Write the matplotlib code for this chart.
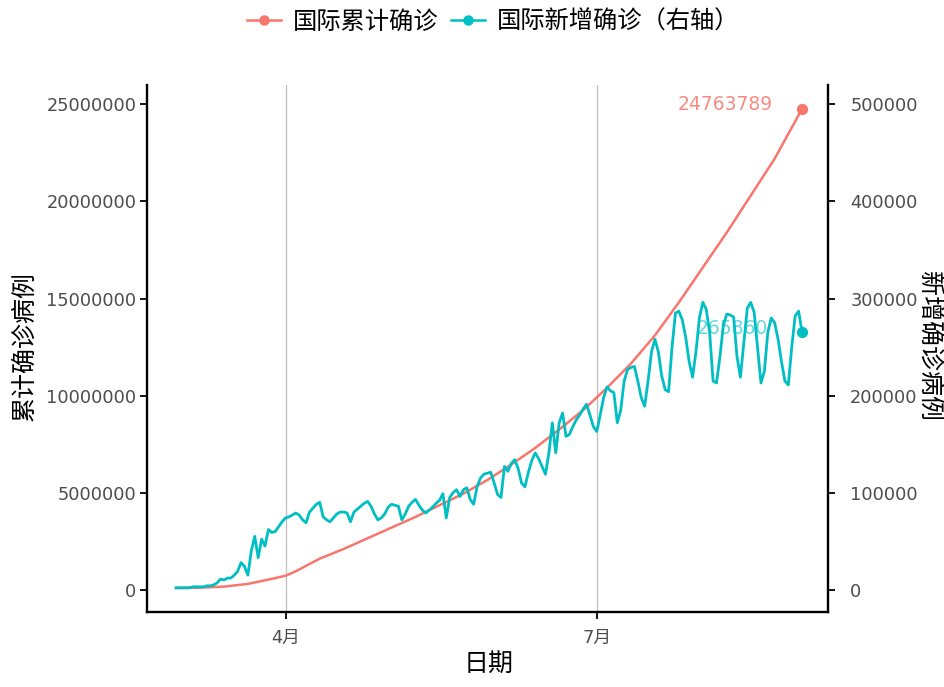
import numpy as np
import pandas as pd
import matplotlib
matplotlib.use("Agg")
import matplotlib.pyplot as plt
import matplotlib.dates as mdates
from matplotlib.lines import Line2D

plt.rcParams['font.family'] = ['DejaVu Sans', 'Noto Sans CJK SC']

# ---------------- data ----------------
start_date = "2020-02-29"
# daily new confirmed cases (right axis), Feb 29 .. Aug 30
daily_new = [
    2000, 2000, 2000, 2000, 2000, 3000, 3000, 3000,
    3000, 4000, 4000, 5000, 7000, 11000, 10000, 12000,
    12000, 15000, 19000, 28000, 24000, 15000, 40000, 55000,
    33000, 52000, 45000, 62000, 59000, 60000, 65000, 70000,
    74000, 75000, 77000, 79000, 77000, 72000, 69000, 80000,
    84000, 88000, 90000, 75000, 72000, 70000, 74000, 78000,
    80000, 80000, 79000, 70000, 80000, 83000, 86000, 89000,
    91000, 86000, 78000, 72000, 74000, 78000, 85000, 88000,
    87000, 86000, 72000, 78000, 86000, 90000, 93000, 87000,
    82000, 79000, 82000, 85000, 89000, 92000, 99000, 74000,
    95000, 100000, 103000, 96000, 103000, 105000, 93000, 88000,
    106000, 115000, 119000, 120000, 121000, 110000, 98000, 95000,
    127000, 122000, 130000, 134000, 125000, 110000, 106000, 121000,
    133000, 141000, 135000, 127000, 119000, 141000, 172000, 141000,
    172000, 182000, 158000, 160000, 168000, 175000, 180000, 186000,
    191000, 180000, 168000, 163000, 180000, 198000, 209000, 205000,
    203000, 172000, 185000, 215000, 227000, 229000, 230000, 215000,
    198000, 189000, 215000, 245000, 258000, 245000, 220000, 206000,
    204000, 250000, 285000, 287000, 278000, 260000, 235000, 219000,
    245000, 280000, 296000, 289000, 265000, 215000, 213000, 240000,
    272000, 284000, 283000, 281000, 240000, 219000, 255000, 290000,
    296000, 286000, 250000, 213000, 225000, 265000, 280000, 275000,
    258000, 235000, 215000, 211000, 250000, 282000, 287000, 265860,
]
# cumulative confirmed cases (left axis) read at selected dates
cum_dates = ["2020-02-29", "2020-03-07", "2020-03-14", "2020-03-21", "2020-03-28",
             "2020-04-01", "2020-04-04", "2020-04-11", "2020-04-18", "2020-04-25",
             "2020-05-02", "2020-05-09", "2020-05-16", "2020-05-23", "2020-05-30",
             "2020-06-06", "2020-06-13", "2020-06-20", "2020-06-27", "2020-07-04",
             "2020-07-11", "2020-07-18", "2020-07-25", "2020-08-01", "2020-08-08",
             "2020-08-15", "2020-08-22", "2020-08-30"]
cum_values = [86000, 105000, 160000, 300000, 560000,
              720000, 950000, 1600000, 2100000, 2650000,
              3200000, 3750000, 4350000, 4950000, 5650000,
              6450000, 7300000, 8250000, 9250000, 10400000,
              11650000, 13100000, 14800000, 16600000, 18400000,
              20300000, 22200000, 24763789]

x_tick_dates = ["2020-04-01", "2020-07-01"]
x_tick_labels = ["4月", "7月"]
left_ticks = [0, 5000000, 10000000, 15000000, 20000000, 25000000]
right_ticks = [0, 100000, 200000, 300000, 400000, 500000]
sec_factor = 50

legend_labels = ["国际累计确诊", "国际新增确诊（右轴）"]
red = "#F8766D"
teal = "#00BFC4"

# ---------------- figure ----------------
daily_dates = pd.date_range(start_date, periods=len(daily_new), freq="D")
cum_dt = pd.to_datetime(cum_dates)
daily_arr = np.array(daily_new, dtype=float)
cum_arr = np.array(cum_values, dtype=float)

W, H = 944, 687
fig = plt.figure(figsize=(W/100, H/100), dpi=100)
ax = fig.add_axes([147/W, 1-612/H, (828-147)/W, (612-85)/H])
ax2 = ax.twinx()

xd0 = mdates.date2num(daily_dates[0]); xd1 = mdates.date2num(daily_dates[-1])
ax.set_xlim(xd0 - 8.5, xd1 + 7.6)
ymin = min(cum_arr.min(), daily_arr.min()*sec_factor)
ymax = max(cum_arr.max(), daily_arr.max()*sec_factor)
yr = ymax - ymin
ax.set_ylim(ymin - 0.05*yr, ymax + 0.05*yr)
ax2.set_ylim(ax.get_ylim()[0]/sec_factor, ax.get_ylim()[1]/sec_factor)

for d in x_tick_dates:
    ax.axvline(mdates.date2num(pd.Timestamp(d)), color="#BEBEBE", lw=0.9, zorder=0)

ax.plot(mdates.date2num(cum_dt), cum_arr, color=red, lw=1.8, zorder=3,
        solid_joinstyle="round")
ax.scatter([mdates.date2num(cum_dt[-1])], [cum_arr[-1]], s=50, color=red, zorder=4)
ax.text(mdates.date2num(cum_dt[-1]) - 8.5, cum_arr[-1] + 250000, f"{int(cum_values[-1])}",
        color=red, alpha=0.85, fontsize=13.5, ha="right", va="center", zorder=2)

ax2.text(mdates.date2num(daily_dates[-1]) - 10.0, daily_arr[-1] + 3000, f"{int(daily_new[-1])}",
         color=teal, alpha=0.6, fontsize=13.5, ha="right", va="center", zorder=1)
ax2.plot(mdates.date2num(daily_dates), daily_arr, color=teal, lw=2.0, zorder=3,
         solid_joinstyle="round")
ax2.scatter([mdates.date2num(daily_dates[-1])], [daily_arr[-1]], s=50, color=teal, zorder=4)

ax.set_xticks([mdates.date2num(pd.Timestamp(d)) for d in x_tick_dates])
ax.set_xticklabels(x_tick_labels)
ax.set_yticks(left_ticks)
ax.set_yticklabels([str(v) for v in left_ticks])
ax2.set_yticks(right_ticks)
ax2.set_yticklabels([str(v) for v in right_ticks])

for a in (ax, ax2):
    a.tick_params(axis="both", colors="black", labelcolor="#4D4D4D", labelsize=12.8,
                  length=5, width=1.3, direction="out")
    a.spines["top"].set_visible(False)
    for s in ("left", "right", "bottom"):
        a.spines[s].set_linewidth(1.7)
        a.spines[s].set_color("black")
    a.set_facecolor("none")
ax.tick_params(axis="y", pad=2.5)
ax.tick_params(axis="x", pad=7)
ax2.tick_params(axis="y", pad=11)
ax.spines["right"].set_visible(False)
ax2.spines["left"].set_visible(False)
ax2.spines["bottom"].set_visible(False)

fig.text(489/W, 1-664/H, "日期", fontsize=18, color="black", ha="center", va="center")
fig.text(25/W, 1-346/H, "累计确诊病例", fontsize=18, color="black", rotation=90,
         ha="center", va="center")
fig.text(929/W, 1-346/H, "新增确诊病例", fontsize=18, color="black", rotation=-90,
         ha="center", va="center")

handles = [Line2D([0], [0], color=red, lw=1.8, marker="o", markersize=6.5),
           Line2D([0], [0], color=teal, lw=1.8, marker="o", markersize=6.5)]
fig.legend(handles, legend_labels, loc="center", bbox_to_anchor=(493/W, 1-22/H),
           ncol=2, frameon=False, fontsize=17.5, handlelength=1.4,
           handletextpad=0.5, columnspacing=0.5)

fig.savefig("out.png", dpi=100)
